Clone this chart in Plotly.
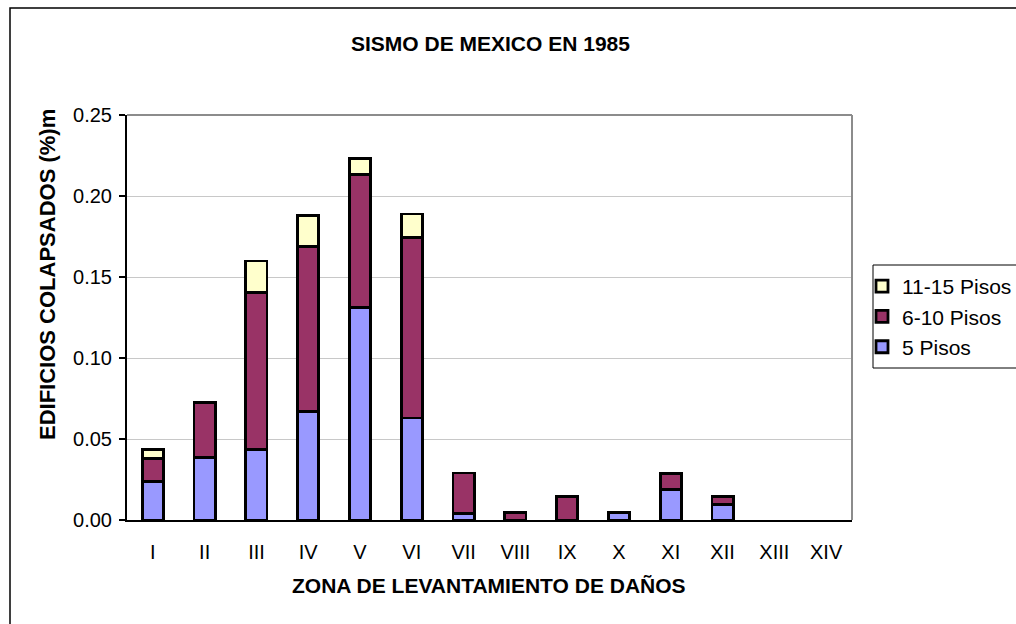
import plotly.graph_objects as go

# Zonas de levantamiento de daños
zonas = ["I", "II", "III", "IV", "V", "VI", "VII", "VIII", "IX", "X", "XI", "XII", "XIII", "XIV"]

# Porcentaje de edificios colapsados por número de pisos
pisos_5 = [0.024, 0.0385, 0.0436, 0.067, 0.131, 0.063, 0.004, 0, 0, 0.0045, 0.019, 0.0095, 0, 0]
pisos_6_10 = [0.014, 0.034, 0.0967, 0.102, 0.0825, 0.1115, 0.025, 0.0045, 0.0144, 0, 0.0098, 0.005, 0, 0]
pisos_11_15 = [0.0056, 0, 0.0196, 0.019, 0.0095, 0.0144, 0, 0, 0, 0, 0, 0, 0, 0]

y_ticks = [0.00, 0.05, 0.10, 0.15, 0.20, 0.25]

FONT = "Liberation Sans, Arial, sans-serif"

# plot area in pixels
W, H = 1016, 624
L, R, T, B = 127, 164, 115, 104
PW, PH = W - L - R, H - T - B


def px_x(x):
    return (x - L) / PW


def px_y(y):
    return (H - B - y) / PH


def nz(vals):
    # zero segments are left out so no empty outline is drawn
    return [v if v else None for v in vals]


# (name, values, colour, legend rank)
series = [
    ("5 Pisos", pisos_5, "#9999FF", 3),
    ("6-10 Pisos", pisos_6_10, "#993366", 2),
    ("11-15 Pisos", pisos_11_15, "#FFFFCC", 1),
]

fig = go.Figure()
for name, vals, color, rank in series:
    fig.add_trace(go.Bar(
        x=zonas, y=nz(vals), name=name, legendgroup=name, legendrank=rank,
        marker=dict(color=color, line=dict(color="#000000", width=2.8)),
    ))

fig.update_layout(
    width=W, height=H,
    margin=dict(l=L, r=R, t=T, b=B, autoexpand=False),
    paper_bgcolor="white", plot_bgcolor="white",
    barmode="stack", bargap=0.59,
    font=dict(family=FONT, color="#000000", size=20),
    showlegend=True,
    legend=dict(
        x=px_x(862), xanchor="left", y=px_y(266), yanchor="top",
        traceorder="grouped", tracegroupgap=0,
        font=dict(family=FONT, size=21, color="#000000"),
        bgcolor="rgba(0,0,0,0)", borderwidth=0,
        itemwidth=30,
    ),
    xaxis=dict(
        showline=True, linecolor="#000000", linewidth=2,
        ticks="", showgrid=False, tickfont=dict(size=20),
        ticklabelstandoff=13,
        range=[-0.5, 13.5],
    ),
    yaxis=dict(
        range=[0, 0.25], tickvals=y_ticks, tickformat=".2f",
        showline=True, linecolor="#000000", linewidth=2,
        ticks="outside", ticklen=6, tickcolor="#000000", tickwidth=1.5,
        showgrid=True, gridcolor="#C8C8C8", gridwidth=1,
        zeroline=False, tickfont=dict(size=20), ticklabelstandoff=3,
    ),
)

# gray frame of the plot area (top and right)
fig.add_shape(type="line", xref="paper", yref="paper", x0=0, x1=1, y0=1, y1=1,
              line=dict(color="#8C8C8C", width=2))
fig.add_shape(type="line", xref="paper", yref="paper", x0=1, x1=1, y0=0, y1=1,
              line=dict(color="#8C8C8C", width=2))

# outer chart border
fig.add_shape(type="rect", xref="paper", yref="paper",
              x0=px_x(10), x1=px_x(1040), y0=px_y(640), y1=px_y(8),
              line=dict(color="#000000", width=1.5), fillcolor="rgba(0,0,0,0)")

# legend frame
fig.add_shape(type="rect", xref="paper", yref="paper",
              x0=px_x(873), x1=px_x(1040), y0=px_y(368), y1=px_y(265),
              line=dict(color="#000000", width=1), fillcolor="rgba(0,0,0,0)")

# titles
fig.add_annotation(text="<b>SISMO DE MEXICO EN 1985</b>", xref="paper", yref="paper",
                   x=px_x(490), y=px_y(44), xanchor="center", yanchor="middle",
                   showarrow=False, font=dict(family=FONT, size=21, color="#000000"))
fig.add_annotation(text="<b>ZONA DE LEVANTAMIENTO DE DAÑOS</b>", xref="paper", yref="paper",
                   x=px_x(489), y=px_y(585), xanchor="center", yanchor="middle",
                   showarrow=False, font=dict(family=FONT, size=21, color="#000000"))
fig.add_annotation(text="<b>EDIFICIOS COLAPSADOS (%)m</b>", xref="paper", yref="paper",
                   x=px_x(47), y=px_y(275), xanchor="center", yanchor="middle",
                   textangle=-90, showarrow=False,
                   font=dict(family=FONT, size=22, color="#000000"))

fig.write_html("out.html")
